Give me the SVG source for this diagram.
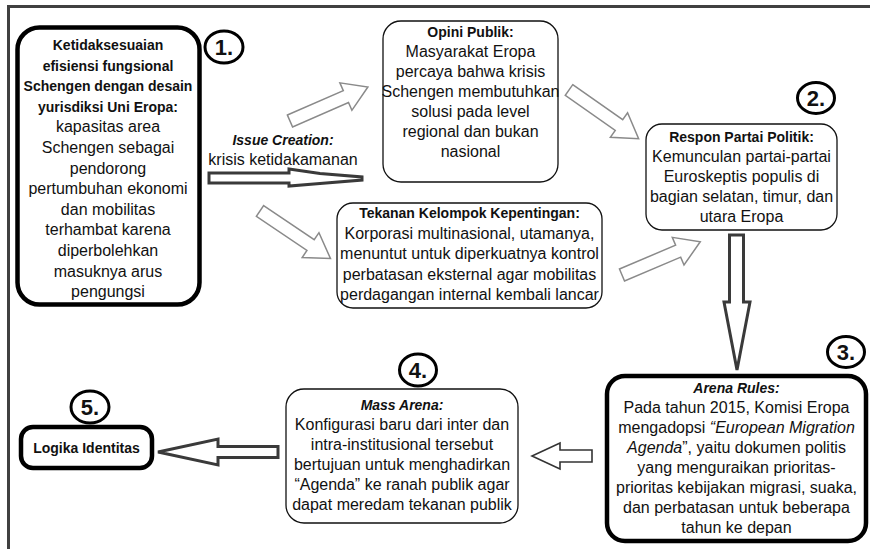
<svg xmlns="http://www.w3.org/2000/svg" width="870" height="549" viewBox="0 0 870 549">
<style>
text{font-family:"Liberation Sans",Arial,sans-serif;fill:#111;text-anchor:middle}
.r{font-size:16px}
.b{font-size:14px;font-weight:bold}
.bi{font-size:14px;font-weight:bold;font-style:italic}
.i{font-style:italic}
.thin{fill:#fff;stroke:#111;stroke-width:1.3}
.thick{fill:#fff;stroke:#000;stroke-width:4.5}
.num{fill:none;stroke:#000;stroke-width:3}
.numt{font-size:22px;font-weight:bold}
.ga{fill:#fff;stroke:#8a8a8a;stroke-width:1.5;stroke-linejoin:miter}
.da{fill:#fff;stroke:#3a3a3a;stroke-width:3;stroke-linejoin:miter}
.dm{fill:#fff;stroke:#333;stroke-width:1.6;stroke-linejoin:miter}
</style>
<defs>
<polygon id="blk" points="0,-6.5 61,-6.5 61,-15 85,0 61,15 61,6.5 0,6.5"/>
</defs>
<g id="frame">
<line x1="8.5" y1="6.5" x2="870" y2="6.5" stroke="#404040" stroke-width="3"/>
<line x1="8.5" y1="5" x2="8.5" y2="549" stroke="#404040" stroke-width="3"/>
</g>
<g id="connectors">
<use href="#blk" class="ga" transform="translate(290,121) rotate(-23.6)"/>
<use href="#blk" class="ga" transform="translate(569,90) rotate(35)"/>
<use href="#blk" class="ga" transform="translate(260,211) rotate(34)"/>
<use href="#blk" class="ga" transform="translate(622,275) rotate(-23)"/>
<polygon class="da" stroke-width="2.5" points="209,173 289,173 289,169 320,173.5 362,177 362,180 320,183.5 289,186 289,183 209,183"/>
<polygon class="da" points="729.5,235 743.5,235 743.5,302 750,302 737,370 724,302 729.5,302"/>
<polygon class="dm" points="592,450 560,450 560,443 532,456 560,469 560,462 592,462"/>
<polygon class="da" stroke-width="2.5" points="278,446.5 218,446.5 218,439 158,452 218,465 218,457.5 278,457.5"/>
</g>
<g id="node1">
<rect class="thick" x="17.5" y="27.5" width="182" height="277" rx="22"/>
<text class="b" x="108" y="50">Ketidaksesuaian</text>
<text class="b" x="108" y="70.6">efisiensi fungsional</text>
<text class="b" x="108" y="91.2">Schengen dengan desain</text>
<text class="b" x="108" y="111.8">yurisdiksi Uni Eropa:</text>
<text class="r" x="108" y="132.4">kapasitas area</text>
<text class="r" x="108" y="153">Schengen sebagai</text>
<text class="r" x="108" y="173.6">pendorong</text>
<text class="r" x="108" y="194.2">pertumbuhan ekonomi</text>
<text class="r" x="108" y="214.8">dan mobilitas</text>
<text class="r" x="108" y="235.4">terhambat karena</text>
<text class="r" x="108" y="256">diperbolehkan</text>
<text class="r" x="108" y="276.6">masuknya arus</text>
<text class="r" x="108" y="297.2">pengungsi</text>
</g>
<g id="num1"><ellipse class="num" cx="224" cy="47" rx="19" ry="16"/><text class="numt" x="224" y="55">1.</text></g>
<g id="issue">
<text class="bi" x="283" y="145">Issue Creation:</text>
<text class="r" x="283" y="165">krisis ketidakamanan</text>
</g>
<g id="opini">
<rect class="thin" x="383" y="21" width="175" height="161" rx="18"/>
<text class="b" x="470.5" y="37">Opini Publik:</text>
<text class="r" x="470.5" y="57">Masyarakat Eropa</text>
<text class="r" x="470.5" y="77">percaya bahwa krisis</text>
<text class="r" x="470.5" y="97">Schengen membutuhkan</text>
<text class="r" x="470.5" y="117">solusi pada level</text>
<text class="r" x="470.5" y="137">regional dan bukan</text>
<text class="r" x="470.5" y="157">nasional</text>
</g>
<g id="num2"><ellipse class="num" cx="816" cy="98" rx="18.5" ry="15.5"/><text class="numt" x="816" y="106">2.</text></g>
<g id="respon">
<rect class="thin" x="646" y="124" width="191" height="106" rx="16"/>
<text class="b" x="741.5" y="142">Respon Partai Politik:</text>
<text class="r" x="741.5" y="162">Kemunculan partai-partai</text>
<text class="r" x="741.5" y="182">Euroskeptis populis di</text>
<text class="r" x="741.5" y="202">bagian selatan, timur, dan</text>
<text class="r" x="741.5" y="222">utara Eropa</text>
</g>
<g id="tekanan">
<rect class="thin" x="337" y="203" width="265" height="105" rx="16"/>
<text class="b" x="469.5" y="218">Tekanan Kelompok Kepentingan:</text>
<text class="r" x="469.5" y="238.5">Korporasi multinasional, utamanya,</text>
<text class="r" x="469.5" y="259">menuntut untuk diperkuatnya kontrol</text>
<text class="r" x="469.5" y="279.5">perbatasan eksternal agar mobilitas</text>
<text class="r" x="469.5" y="300">perdagangan internal kembali lancar</text>
</g>
<g id="num3"><ellipse class="num" cx="846" cy="352" rx="18.5" ry="15.5"/><text class="numt" x="846" y="360">3.</text></g>
<g id="arena">
<rect class="thick" x="607" y="376" width="259" height="165" rx="18"/>
<text class="bi" x="736.5" y="393">Arena Rules:</text>
<text class="r" x="736.5" y="413">Pada tahun 2015, Komisi Eropa</text>
<text class="r" x="736.5" y="433">mengadopsi <tspan class="i">“European Migration</tspan></text>
<text class="r" x="736.5" y="453"><tspan class="i">Agenda</tspan>”, yaitu dokumen politis</text>
<text class="r" x="736.5" y="473">yang menguraikan prioritas-</text>
<text class="r" x="736.5" y="493">prioritas kebijakan migrasi, suaka,</text>
<text class="r" x="736.5" y="513">dan perbatasan untuk beberapa</text>
<text class="r" x="736.5" y="533">tahun ke depan</text>
</g>
<g id="num4"><ellipse class="num" cx="418" cy="370" rx="18.5" ry="16"/><text class="numt" x="418" y="378">4.</text></g>
<g id="mass">
<rect class="thin" x="286" y="389" width="232" height="134" rx="18"/>
<text class="bi" x="402" y="410">Mass Arena:</text>
<text class="r" x="402" y="430">Konfigurasi baru dari inter dan</text>
<text class="r" x="402" y="450">intra-institusional tersebut</text>
<text class="r" x="402" y="470">bertujuan untuk menghadirkan</text>
<text class="r" x="402" y="490">“Agenda” ke ranah publik agar</text>
<text class="r" x="402" y="510">dapat meredam tekanan publik</text>
</g>
<g id="num5"><ellipse class="num" cx="90" cy="407" rx="19" ry="16"/><text class="numt" x="90" y="415">5.</text></g>
<g id="logika">
<rect class="thick" stroke-width="3" x="21" y="427" width="131" height="41" rx="12"/>
<text class="b" x="86.5" y="453">Logika Identitas</text>
</g>
</svg>
